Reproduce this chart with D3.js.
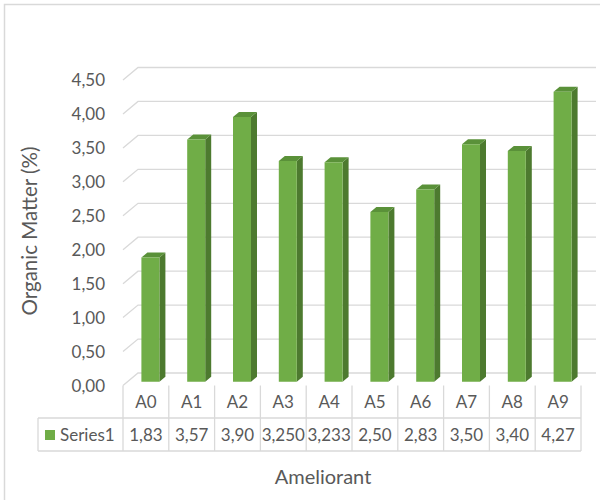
<!DOCTYPE html>
<html>
<head>
<meta charset="utf-8">
<script src="https://cdn.jsdelivr.net/npm/d3@7"></script>
<style>
  body { margin: 0; background: #fff; }
  text { font-family: Lato, "Open Sans", sans-serif; fill: #595959; }
</style>
</head>
<body>
<svg id="canvas"></svg>
<script>
const categories = ["A0", "A1", "A2", "A3", "A4", "A5", "A6", "A7", "A8", "A9"]
const values = [1.83, 3.57, 3.90, 3.250, 3.233, 2.50, 2.83, 3.50, 3.40, 4.27]
const valueLabels = ["1,83", "3,57", "3,90", "3,250", "3,233", "2,50", "2,83", "3,50", "3,40", "4,27"]
const yTicks = [0, 0.5, 1, 1.5, 2, 2.5, 3, 3.5, 4, 4.5]
const seriesName = "Series1"

const width = 600
const height = 500
const left = 123
const right = 581
const depthX = 15
const depthY = -12.5
const gridColor = "#d9d9d9"

const canvas = d3.select("#canvas").attr("width", width).attr("height", height)

const xScale = d3.scaleBand().domain(categories).range([left, right])
const yScale = d3.scaleLinear().domain([0, 4.5]).range([385.5, 80])

// point in the 3d box: x on the front plane, value, depth 0..1
const pt = (xv, v, d) => [xv + d * depthX, yScale(v) + d * depthY]
const line = d3.line()

// chart border
canvas.append("rect")
  .attr("x", 4.5).attr("y", 4.5)
  .attr("width", 620).attr("height", 520)
  .attr("fill", "none").attr("stroke", gridColor).attr("stroke-width", 1.5)

// wall gridlines
canvas.append("g").selectAll("path")
  .data(yTicks)
  .enter()
  .append("path")
  .attr("d", t => line([pt(left, t, 0), pt(left, t, 1), pt(right, t, 1)]))
  .attr("fill", "none")
  .attr("stroke", gridColor)
  .attr("stroke-width", 1.3)

// y tick labels
canvas.append("g").selectAll("text")
  .data(yTicks)
  .enter()
  .append("text")
  .attr("x", 105)
  .attr("y", t => yScale(t))
  .attr("dy", "0.36em")
  .attr("text-anchor", "end")
  .style("font-size", "17px")
  .text(t => d3.format(".2f")(t).replace(".", ","))

// bars
const d0 = 0.3, d1 = 0.7
const bw = 18
const bars = canvas.append("g").selectAll("g")
  .data(values)
  .enter()
  .append("g")

const bx0 = (v, i) => xScale(categories[i]) + xScale.bandwidth() / 2 - bw / 2
bars.append("path")
  .attr("d", (v, i) => {
    const x0 = bx0(v, i), x1 = x0 + bw
    return line([pt(x1, 0, d0), pt(x1, 0, d1), pt(x1, v, d1), pt(x1, v, d0)]) + "Z"
  })
  .attr("fill", "#4d7a2f")
bars.append("path")
  .attr("d", (v, i) => {
    const x0 = bx0(v, i), x1 = x0 + bw
    return line([pt(x0, v, d0), pt(x1, v, d0), pt(x1, v, d1), pt(x0, v, d1)]) + "Z"
  })
  .attr("fill", "#5a9139")
bars.append("path")
  .attr("d", (v, i) => {
    const x0 = bx0(v, i), x1 = x0 + bw
    return line([pt(x0, 0, d0), pt(x1, 0, d0), pt(x1, v, d0), pt(x0, v, d0)]) + "Z"
  })
  .attr("fill", "#70ad47")

// data table
const tableTop = yScale(0)
const rowMid = 418
const tableBottom = 451
const legendLeft = 38
const table = canvas.append("g").attr("stroke", gridColor).attr("stroke-width", 1.3)

const edges = categories.map(c => xScale(c)).concat([right])
table.selectAll("line.v")
  .data(edges)
  .enter()
  .append("line")
  .attr("x1", d => d).attr("x2", d => d)
  .attr("y1", tableTop).attr("y2", tableBottom)
table.append("line").attr("x1", legendLeft).attr("x2", legendLeft).attr("y1", rowMid).attr("y2", tableBottom)
table.append("line").attr("x1", legendLeft).attr("x2", right).attr("y1", rowMid).attr("y2", rowMid)
table.append("line").attr("x1", legendLeft).attr("x2", right).attr("y1", tableBottom).attr("y2", tableBottom)

canvas.append("g").selectAll("text")
  .data(categories)
  .enter()
  .append("text")
  .attr("x", c => xScale(c) + xScale.bandwidth() / 2)
  .attr("y", 402)
  .attr("dy", "0.36em")
  .attr("text-anchor", "middle")
  .style("font-size", "17px")
  .text(c => c)

canvas.append("g").selectAll("text")
  .data(valueLabels)
  .enter()
  .append("text")
  .attr("x", (v, i) => xScale(categories[i]) + xScale.bandwidth() / 2)
  .attr("y", 435)
  .attr("dy", "0.36em")
  .attr("text-anchor", "middle")
  .style("font-size", "17px")
  .text(v => v)

canvas.append("rect")
  .attr("x", 45).attr("y", 430)
  .attr("width", 10).attr("height", 10)
  .attr("fill", "#70ad47")
canvas.append("text")
  .attr("x", 60).attr("y", 435)
  .attr("dy", "0.36em")
  .style("font-size", "17px")
  .text(seriesName)

// axis titles
canvas.append("text")
  .attr("x", 323).attr("y", 477)
  .attr("dy", "0.36em")
  .attr("text-anchor", "middle")
  .style("font-size", "20px")
  .text("Ameliorant")

canvas.append("text")
  .attr("transform", "translate(37, 231) rotate(-90)")
  .attr("text-anchor", "middle")
  .style("font-size", "20.5px")
  .text("Organic Matter (%)")
</script>
</body>
</html>
